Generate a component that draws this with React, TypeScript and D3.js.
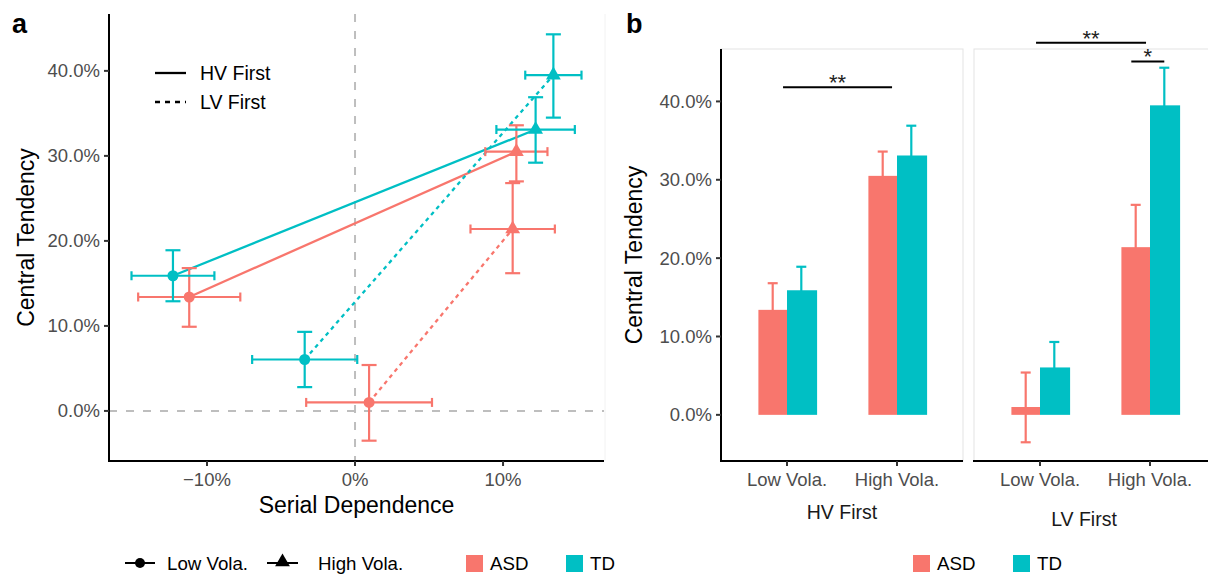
import React from "react";
import * as d3 from "d3";

// ---------------- data ----------------
const groups = ["ASD", "TD"];
const groupColors = ["#F8766D", "#00BFC4"];
const orders = ["HV First", "LV First"];
const volatilities = ["Low Vola.", "High Vola."];

const pointGroup = ["ASD", "ASD", "ASD", "ASD", "TD", "TD", "TD", "TD"];
const pointOrder = ["HV First", "HV First", "LV First", "LV First", "HV First", "HV First", "LV First", "LV First"];
const pointVola = ["Low Vola.", "High Vola.", "Low Vola.", "High Vola.", "Low Vola.", "High Vola.", "Low Vola.", "High Vola."];
const serialDependence = [-11.2, 10.9, 0.95, 10.65, -12.3, 12.2, -3.4, 13.4];
const serialDependenceErr = [3.45, 2.1, 4.25, 2.85, 2.8, 2.65, 3.55, 1.9];
const centralTendency = [13.4, 30.5, 1.0, 21.4, 15.9, 33.1, 6.05, 39.5];
const ctLower = [9.9, 27.0, -3.5, 16.2, 12.9, 29.2, 2.8, 34.5];
const ctUpper = [16.8, 33.6, 5.4, 26.8, 18.9, 36.9, 9.3, 44.3];

const yTicks = [0, 10, 20, 30, 40];
const xTicks = [-10, 0, 10];

const sigOrder = ["HV First", "LV First", "LV First"];
const sigX1 = [0.964, 0.964, 1.83];
const sigX2 = [1.955, 1.964, 2.13];
const sigY = [41.8, 47.5, 45.1];
const sigLabel = ["**", "**", "*"];

// ---------------- layout ----------------
const W = 1208;
const H = 575;
const A = { left: 109, right: 604, top: 14, bottom: 461 };
const B = { facets: [[721, 963], [974, 1216]], top: 49, bottom: 461, titleShift: [0, -11], titleY: [519, 526] };
const FONT = "'Liberation Sans', Arial, Helvetica, sans-serif";
const TICK_COL = "#4D4D4D";
const REF_COL = "#BEBEBE";
const TICK_FS = 18.5;
const TITLE_FS = 23;
const LEG_FS = 18.7;

const rows = serialDependence.map((_, i) => ({
  group: pointGroup[i],
  order: pointOrder[i],
  vola: pointVola[i],
  x: serialDependence[i],
  xe: serialDependenceErr[i],
  y: centralTendency[i],
  lo: ctLower[i],
  hi: ctUpper[i],
}));

const colorOf = (g: string) => groupColors[groups.indexOf(g)];

function expand(lo: number, hi: number): [number, number] {
  const r = hi - lo;
  return [lo - 0.05 * r, hi + 0.05 * r];
}

const yDomain = expand(d3.min(ctLower)!, d3.max(ctUpper)!);
const xDomain = expand(
  d3.min(rows, (r) => r.x - r.xe)!,
  d3.max(rows, (r) => r.x + r.xe)!
);

const fmtPct1 = (v: number) => d3.format(".1f")(v) + "%";
const fmtPct0 = (v: number) => d3.format(".0f")(v).replace("-", "\u2212") + "%";

function PanelA() {
  const xs = d3.scaleLinear().domain(xDomain).range([A.left, A.right]);
  const ys = d3.scaleLinear().domain(yDomain).range([A.bottom, A.top]);
  const line = d3.line<{ x: number; y: number }>().x((d) => xs(d.x)).y((d) => ys(d.y));
  const tri = d3.symbol(d3.symbolTriangle, 95)()!;
  const legTri = d3.symbol(d3.symbolTriangle, 95)()!;

  const lines: JSX.Element[] = [];
  groups.forEach((g) =>
    orders.forEach((o) => {
      const pts = volatilities.map((v) => rows.find((r) => r.group === g && r.order === o && r.vola === v)!);
      lines.push(
        <path
          key={g + o}
          d={line(pts)!}
          fill="none"
          stroke={colorOf(g)}
          strokeWidth={2.3}
          strokeDasharray={o === "LV First" ? "4,4" : undefined}
        />
      );
    })
  );

  return (
    <g>
      {/* reference lines */}
      <line x1={xs(0)} x2={xs(0)} y1={A.top} y2={A.bottom} stroke={REF_COL} strokeWidth={2} strokeDasharray="8,9" />
      <line x1={A.left} x2={A.right} y1={ys(0)} y2={ys(0)} stroke={REF_COL} strokeWidth={2} strokeDasharray="8,9" />
      <line x1={A.right + 1} x2={A.right + 1} y1={A.top} y2={A.bottom} stroke="#F2F2F2" strokeWidth={1} />
      {lines}
      {rows.map((r, i) => {
        const c = colorOf(r.group);
        const cx = xs(r.x);
        const cy = ys(r.y);
        return (
          <g key={"e" + i} stroke={c} strokeWidth={2.2}>
            <line x1={cx} x2={cx} y1={ys(r.lo)} y2={ys(r.hi)} />
            <line x1={cx - 7.5} x2={cx + 7.5} y1={ys(r.lo)} y2={ys(r.lo)} />
            <line x1={cx - 7.5} x2={cx + 7.5} y1={ys(r.hi)} y2={ys(r.hi)} />
            <line x1={xs(r.x - r.xe)} x2={xs(r.x + r.xe)} y1={cy} y2={cy} />
            <line x1={xs(r.x - r.xe)} x2={xs(r.x - r.xe)} y1={cy - 4.5} y2={cy + 4.5} />
            <line x1={xs(r.x + r.xe)} x2={xs(r.x + r.xe)} y1={cy - 4.5} y2={cy + 4.5} />
          </g>
        );
      })}
      {rows.map((r, i) =>
        r.vola === "Low Vola." ? (
          <circle key={"p" + i} cx={xs(r.x)} cy={ys(r.y)} r={5.5} fill={colorOf(r.group)} />
        ) : (
          <path key={"p" + i} d={tri} transform={`translate(${xs(r.x)},${ys(r.y)})`} fill={colorOf(r.group)} />
        )
      )}
      {/* axes */}
      <line x1={A.left} x2={A.left} y1={A.top} y2={A.bottom + 1} stroke="black" strokeWidth={2} />
      <line x1={A.left - 1} x2={A.right} y1={A.bottom} y2={A.bottom} stroke="black" strokeWidth={2} />
      {yTicks.map((t) => (
        <g key={"yt" + t}>
          <line x1={A.left - 5} x2={A.left} y1={ys(t)} y2={ys(t)} stroke="#333" strokeWidth={2} />
          <text x={A.left - 9} y={ys(t) + 6.5} textAnchor="end" fontSize={TICK_FS} fill={TICK_COL} fontFamily={FONT}>
            {fmtPct1(t)}
          </text>
        </g>
      ))}
      {xTicks.map((t) => (
        <g key={"xt" + t}>
          <line x1={xs(t)} x2={xs(t)} y1={A.bottom} y2={A.bottom + 5} stroke="#333" strokeWidth={2} />
          <text x={xs(t)} y={486} textAnchor="middle" fontSize={TICK_FS} fill={TICK_COL} fontFamily={FONT}>
            {fmtPct0(t)}
          </text>
        </g>
      ))}
      <text x={(A.left + A.right) / 2} y={513} textAnchor="middle" fontSize={TITLE_FS} fill="black" fontFamily={FONT}>
        Serial Dependence
      </text>
      <text
        transform={`translate(34,${(A.top + A.bottom) / 2}) rotate(-90)`}
        textAnchor="middle"
        fontSize={TITLE_FS}
        fill="black"
        fontFamily={FONT}
      >
        Central Tendency
      </text>
      <text x={12} y={33} fontSize={27} fontWeight="bold" fontFamily={FONT}>
        a
      </text>
      {/* linetype legend */}
      {orders.map((o, i) => (
        <g key={"lt" + o}>
          <line
            x1={155}
            x2={186}
            y1={73 + i * 29}
            y2={73 + i * 29}
            stroke="black"
            strokeWidth={2.3}
            strokeDasharray={o === "LV First" ? "5,5" : undefined}
          />
          <text x={200} y={79.5 + i * 29} fontSize={19.5} fill="black" fontFamily={FONT}>
            {o}
          </text>
        </g>
      ))}
      {/* bottom legend */}
      <g>
        <line x1={125} x2={155} y1={563} y2={563} stroke="black" strokeWidth={2} />
        <circle cx={140} cy={563} r={5} fill="black" />
        <text x={167} y={569.5} fontSize={LEG_FS} fontFamily={FONT}>
          {volatilities[0]}
        </text>
        <line x1={267} x2={298} y1={563} y2={563} stroke="black" strokeWidth={2} />
        <path d={legTri} transform="translate(282.5,562)" fill="black" />
        <text x={318} y={569.5} fontSize={LEG_FS} fontFamily={FONT}>
          {volatilities[1]}
        </text>
        {groups.map((g, i) => (
          <g key={"lg" + g}>
            <rect x={466 + i * 100} y={555} width={17} height={17} fill={groupColors[i]} />
            <text x={490 + i * 100} y={569.5} fontSize={LEG_FS} fontFamily={FONT}>
              {g}
            </text>
          </g>
        ))}
      </g>
    </g>
  );
}

function PanelB() {
  const ys = d3.scaleLinear().domain(yDomain).range([B.bottom, B.top]);
  const barW = 0.26;
  return (
    <g>
      {orders.map((o, fi) => {
        const [fx0, fx1] = B.facets[fi];
        const xs = d3.scaleLinear().domain([0.4, 2.6]).range([fx0, fx1]);
        const unit = xs(1) - xs(0);
        const facetRows = rows.filter((r) => r.order === o);
        return (
          <g key={"f" + o}>
            <rect x={fx0} y={B.top} width={fx1 - fx0} height={B.bottom - B.top} fill="none" stroke="#E3E3E3" strokeWidth={1} />
            {facetRows.map((r, i) => {
              const gi = groups.indexOf(r.group);
              const c = xs(volatilities.indexOf(r.vola) + 1);
              const x0 = gi === 0 ? c - barW * unit : c;
              const mid = x0 + (barW * unit) / 2;
              return (
                <g key={"eb" + i} stroke={colorOf(r.group)} strokeWidth={2.2}>
                  <line x1={mid} x2={mid} y1={ys(r.lo)} y2={ys(r.hi)} />
                  <line x1={mid - 5} x2={mid + 5} y1={ys(r.lo)} y2={ys(r.lo)} />
                  <line x1={mid - 5} x2={mid + 5} y1={ys(r.hi)} y2={ys(r.hi)} />
                </g>
              );
            })}
            {facetRows.map((r, i) => {
              const gi = groups.indexOf(r.group);
              const c = xs(volatilities.indexOf(r.vola) + 1);
              const x0 = gi === 0 ? c - barW * unit : c;
              return (
                <rect
                  key={"b" + i}
                  x={x0}
                  y={ys(Math.max(r.y, 0))}
                  width={barW * unit + (gi === 1 ? 1.5 : 0)}
                  height={Math.abs(ys(r.y) - ys(0))}
                  fill={colorOf(r.group)}
                />
              );
            })}
            {/* x axis */}
            <line x1={fx0 - 1} x2={fx1} y1={B.bottom} y2={B.bottom} stroke="black" strokeWidth={2} />
            {volatilities.map((v, vi) => (
              <g key={"bx" + v}>
                <line x1={xs(vi + 1)} x2={xs(vi + 1)} y1={B.bottom} y2={B.bottom + 5} stroke="#333" strokeWidth={2} />
                <text x={xs(vi + 1)} y={486} textAnchor="middle" fontSize={TICK_FS} fill={TICK_COL} fontFamily={FONT}>
                  {v}
                </text>
              </g>
            ))}
            <text
              x={(fx0 + fx1) / 2 + B.titleShift[fi]}
              y={B.titleY[fi]}
              textAnchor="middle"
              fontSize={19.5}
              fill="#1A1A1A"
              fontFamily={FONT}
            >
              {o}
            </text>
            {sigOrder.map((so, si) =>
              so === o ? (
                <g key={"sig" + si}>
                  <line x1={xs(sigX1[si])} x2={xs(sigX2[si])} y1={ys(sigY[si])} y2={ys(sigY[si])} stroke="black" strokeWidth={2} />
                  <text
                    x={(xs(sigX1[si]) + xs(sigX2[si])) / 2}
                    y={ys(sigY[si]) + 3}
                    textAnchor="middle"
                    fontSize={22}
                    fill="#222"
                    fontFamily={FONT}
                  >
                    {sigLabel[si]}
                  </text>
                </g>
              ) : null
            )}
          </g>
        );
      })}
      {/* y axis */}
      <line x1={B.facets[0][0]} x2={B.facets[0][0]} y1={B.top} y2={B.bottom + 1} stroke="black" strokeWidth={2} />
      {yTicks.map((t) => (
        <g key={"byt" + t}>
          <line x1={B.facets[0][0] - 5} x2={B.facets[0][0]} y1={ys(t)} y2={ys(t)} stroke="#333" strokeWidth={2} />
          <text x={B.facets[0][0] - 9} y={ys(t) + 6.5} textAnchor="end" fontSize={TICK_FS} fill={TICK_COL} fontFamily={FONT}>
            {fmtPct1(t)}
          </text>
        </g>
      ))}
      <text
        transform={`translate(642,${(B.top + B.bottom) / 2}) rotate(-90)`}
        textAnchor="middle"
        fontSize={TITLE_FS}
        fill="black"
        fontFamily={FONT}
      >
        Central Tendency
      </text>
      <text x={626} y={33} fontSize={27} fontWeight="bold" fontFamily={FONT}>
        b
      </text>
      {groups.map((g, i) => (
        <g key={"blg" + g}>
          <rect x={913 + i * 100} y={555} width={17} height={17} fill={groupColors[i]} />
          <text x={937 + i * 100} y={569.5} fontSize={LEG_FS} fontFamily={FONT}>
            {g}
          </text>
        </g>
      ))}
    </g>
  );
}

export default function App() {
  return (
    <svg
      width={W}
      height={H}
      viewBox={`0 0 ${W} ${H}`}
      style={{ position: "absolute", left: 0, top: 0, background: "white", display: "block" }}
    >
      <rect x={0} y={0} width={W} height={H} fill="white" />
      <PanelA />
      <PanelB />
    </svg>
  );
}
